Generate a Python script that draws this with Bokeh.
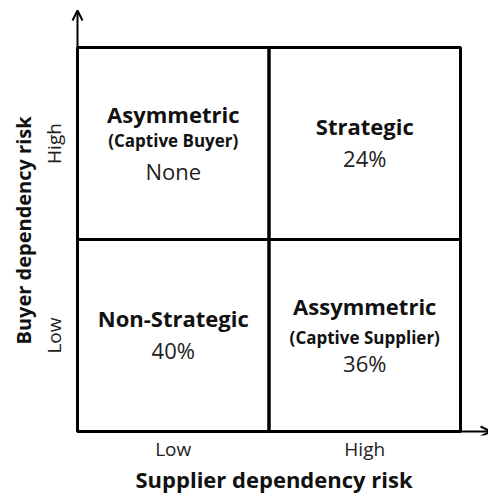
from bokeh.plotting import figure
from bokeh.models import Range1d, FixedTicker, Arrow, OpenHead, Title, ColumnDataSource
from bokeh.core.properties import value
from bokeh.embed import file_html
from bokeh.resources import INLINE

# ---- data ----
levels = ["Low", "High"]
x_axis_title = "Supplier dependency risk"
y_axis_title = "Buyer dependency risk"
cell_supplier = ["Low", "High", "Low", "High"]
cell_buyer = ["High", "High", "Low", "Low"]
cell_title = ["Asymmetric", "Strategic", "Non-Strategic", "Assymmetric"]
cell_subtitle = ["(Captive Buyer)", "", "", "(Captive Supplier)"]
cell_share = ["None", "24%", "40%", "36%"]

FONT = "Open Sans"
W, H = 488, 497

p = figure(width=W, height=H, output_backend="svg", toolbar_location=None,
           x_range=Range1d(-0.0522, 2.1462), y_range=Range1d(-0.0208, 2.2448),
           min_border_left=67, min_border_right=0, min_border_top=0, min_border_bottom=62)
p.outline_line_color = None
p.grid.visible = False
p.background_fill_color = "white"
p.title.visible = False

cx = [levels.index(s) + 0.5 for s in cell_supplier]
cy = [levels.index(b) + 0.5 for b in cell_buyer]
has_sub = [bool(s) for s in cell_subtitle]
src = ColumnDataSource(dict(
    x=cx, y=cy, title=cell_title, sub=cell_subtitle, share=cell_share,
    t_off=[-30 if h else -18 for h in has_sub],
    u_off=[-3 if b == "High" else 2 for b in cell_buyer],
    s_off=[27 if h else 14 for h in has_sub],
))

p.rect(x="x", y="y", width=1, height=1, source=src, fill_color=None,
       line_color="black", line_width=3)

p.add_layout(Arrow(end=OpenHead(size=10, line_width=2, line_color="black"),
                   x_start=0, y_start=0, x_end=0, y_end=2.193,
                   line_width=2, line_color="black"))
p.add_layout(Arrow(end=OpenHead(size=10, line_width=2, line_color="black"),
                   x_start=0, y_start=0, x_end=2.157, y_end=0,
                   line_width=2, line_color="black"))

p.text(x="x", y="y", text="title", source=src, y_offset="t_off",
       text_font=value(FONT), text_font_style="bold", text_font_size="22px",
       text_align="center", text_baseline="alphabetic", text_color="#111111")
p.text(x="x", y="y", text="sub", source=src, y_offset="u_off",
       text_font=value(FONT), text_font_style="bold", text_font_size="17px",
       text_align="center", text_baseline="alphabetic", text_color="#111111")
p.text(x="x", y="y", text="share", source=src, y_offset="s_off",
       text_font=value(FONT), text_font_style="normal", text_font_size="22px",
       text_align="center", text_baseline="alphabetic", text_color="#222222")

ticks = [0.5, 1.5]
for ax in (p.xaxis, p.yaxis):
    ax.ticker = FixedTicker(ticks=ticks)
    ax.major_label_overrides = {t: lab for t, lab in zip(ticks, levels)}
    ax.axis_line_color = None
    ax.major_tick_line_color = None
    ax.minor_tick_line_color = None
    ax.major_tick_out = 0
    ax.major_tick_in = 0
    ax.major_label_text_font = FONT
    ax.major_label_text_font_size = "19px"
    ax.major_label_text_color = "#222222"
p.xaxis.major_label_standoff = 0
p.yaxis.major_label_standoff = 0
p.yaxis.major_label_orientation = "vertical"

p.add_layout(Title(text=x_axis_title, align="left", text_font=FONT, text_color="#111111",
                   text_font_size="22px", text_font_style="bold", offset=68, standoff=-5), "below")
p.add_layout(Title(text=y_axis_title, align="left", text_font=FONT, text_color="#111111",
                   text_font_size="20px", text_font_style="bold", offset=91, standoff=4), "left")

open("out.html", "w").write(file_html(p, INLINE))
